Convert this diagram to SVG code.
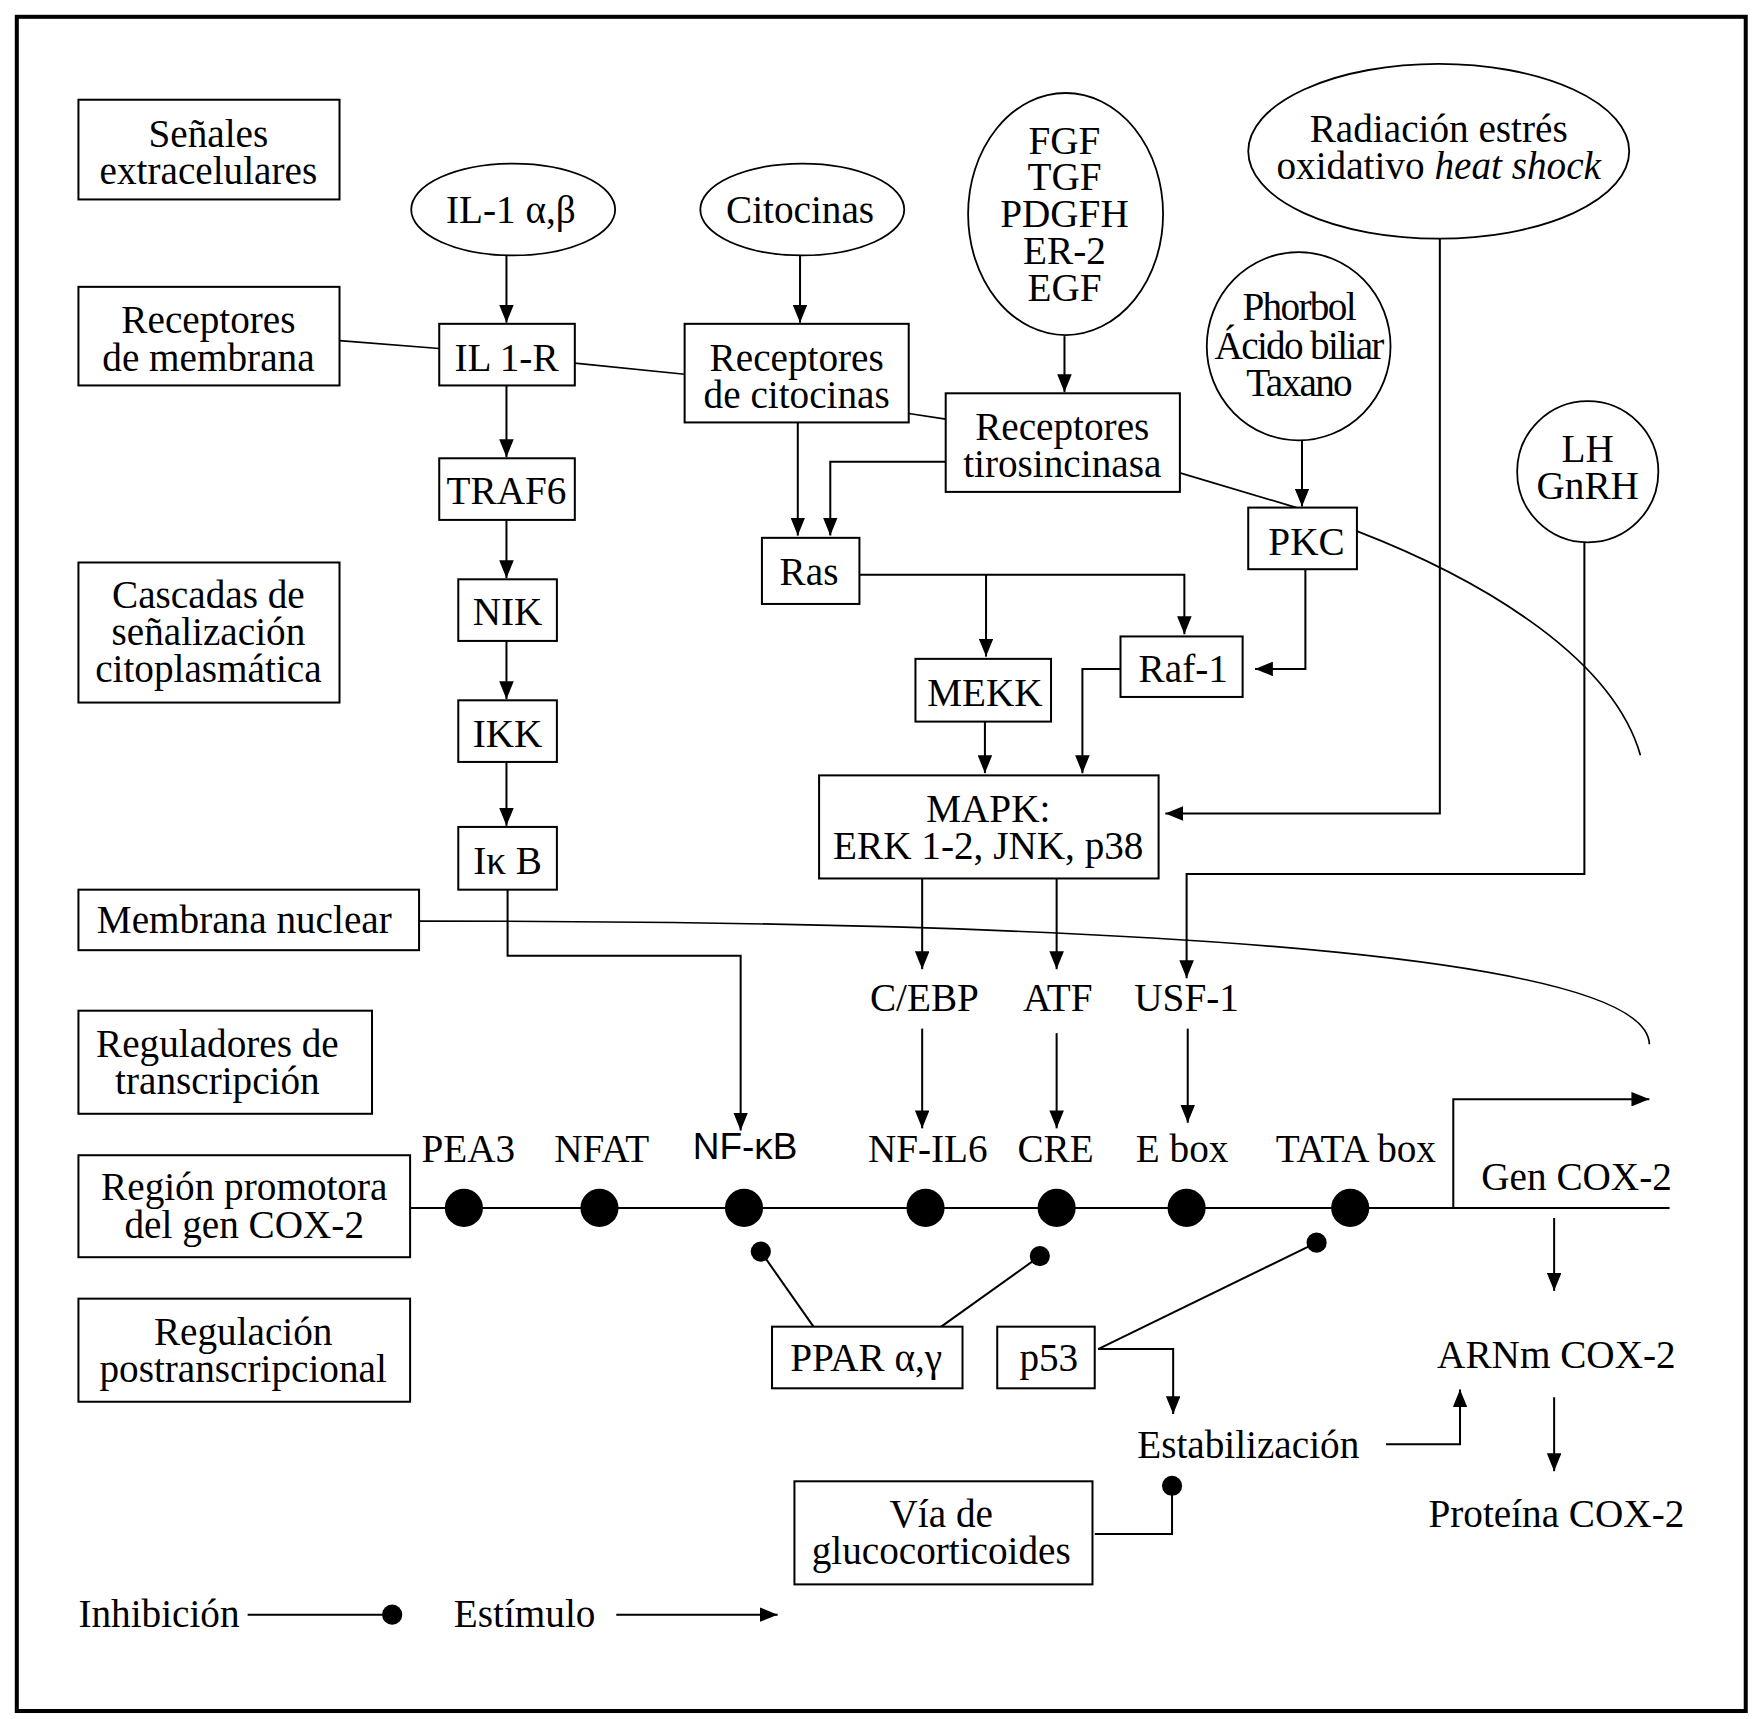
<svg xmlns="http://www.w3.org/2000/svg" width="1757" height="1719" viewBox="0 0 1757 1719">
<defs>
<style>
text{font-family:"Liberation Serif","Times New Roman",serif;font-size:35px;fill:#000;text-anchor:middle}
.st{text-anchor:start}
.sans{font-family:"Liberation Sans",Arial,sans-serif;font-size:33px}
.cond{letter-spacing:-1.5px}
.box{fill:#fff;stroke:#000;stroke-width:1.8}
.ell{fill:#fff;stroke:#000;stroke-width:1.6}
.ln{fill:none;stroke:#000;stroke-width:1.8}
.mem{fill:none;stroke:#000;stroke-width:1.5}
.arr{marker-end:url(#ah)}
.dot{fill:#000}
</style>
<marker id="ah" markerUnits="userSpaceOnUse" viewBox="0 0 16 13" refX="16" refY="6.5" markerWidth="16" markerHeight="13" orient="auto">
<path d="M0,0 L16,6.5 L0,13 z" fill="#000"/>
</marker>
</defs>
<rect x="0" y="0" width="1757" height="1719" fill="#fff"/>
<g transform="scale(1.1205)">
<rect x="15" y="15" width="1543" height="1512" fill="none" stroke="#000" stroke-width="3.6"/>

<g id="connectors">
<path class="mem" d="M303,304 L392,311"/>
<path class="mem" d="M513,324 L611,334"/>
<path class="mem" d="M811,369 L844,374"/>
<path class="mem" d="M1053,422 L1157,453"/>
<path class="mem" d="M1211,474 C1330,520 1440,590 1464,674"/>
<path class="mem" d="M374,822 C1100,822 1470,860 1472,932"/>
<path class="ln arr" d="M452,227 L452,288"/>
<path class="ln arr" d="M714,227 L714,288"/>
<path class="ln arr" d="M950,300 L950,350"/>
<path class="ln arr" d="M1162,392 L1162,452"/>
<path class="ln arr" d="M452,344 L452,408"/>
<path class="ln arr" d="M452,464 L452,516"/>
<path class="ln arr" d="M452,572 L452,624"/>
<path class="ln arr" d="M452,680 L452,737"/>
<path class="ln arr" d="M453,794 L453,853 L661,853 L661,1009"/>
<path class="ln arr" d="M712,377 L712,478"/>
<path class="ln arr" d="M844,412 L741,412 L741,478"/>
<path class="ln arr" d="M767,513 L1057,513 L1057,566"/>
<path class="ln arr" d="M880,513 L880,586"/>
<path class="ln arr" d="M1165,508 L1165,597 L1120,597"/>
<path class="ln arr" d="M879,644 L879,690"/>
<path class="ln arr" d="M1000,597 L966,597 L966,690"/>
<path class="ln arr" d="M1285,212 L1285,726 L1040,726"/>
<path class="ln arr" d="M1414,482 L1414,780 L1059,780 L1059,873"/>
<path class="ln arr" d="M823,784 L823,865"/>
<path class="ln arr" d="M943,784 L943,865"/>
<path class="ln arr" d="M823,918 L823,1007"/>
<path class="ln arr" d="M943,922 L943,1007"/>
<path class="ln arr" d="M1060,918 L1060,1002"/>
<path class="ln arr" d="M1297,1078 L1297,981 L1472,981"/>
<path class="ln arr" d="M1387,1087 L1387,1152"/>
<path class="ln arr" d="M1387,1247 L1387,1313"/>
<path class="ln arr" d="M980,1204 L1047,1204 L1047,1262"/>
<path class="ln arr" d="M1237,1289 L1303,1289 L1303,1240"/>
<path class="ln" d="M679,1117 L726,1184"/>
<circle class="dot" cx="679" cy="1117" r="9"/>
<path class="ln" d="M928,1121 L840,1184"/>
<circle class="dot" cx="928" cy="1121" r="9"/>
<path class="ln" d="M1175,1109 L980,1204"/>
<circle class="dot" cx="1175" cy="1109" r="9"/>
<path class="ln" d="M977,1369 L1046,1369 L1046,1326"/>
<circle class="dot" cx="1046" cy="1326" r="9"/>
</g>

<g id="promoter">
<path class="ln" d="M366,1078 L1490,1078"/>
<circle class="dot" cx="414" cy="1078" r="17"/>
<circle class="dot" cx="535" cy="1078" r="17"/>
<circle class="dot" cx="664" cy="1078" r="17"/>
<circle class="dot" cx="826" cy="1078" r="17"/>
<circle class="dot" cx="943" cy="1078" r="17"/>
<circle class="dot" cx="1059" cy="1078" r="17"/>
<circle class="dot" cx="1205" cy="1078" r="17"/>
</g>

<g id="lbl-senales"><rect class="box" x="70" y="89" width="233" height="89"/><text x="186" y="131">Señales<tspan x="186" dy="33">extracelulares</tspan></text></g>
<g id="lbl-receptores"><rect class="box" x="70" y="256" width="233" height="88"/><text x="186" y="297">Receptores<tspan x="186" dy="34">de membrana</tspan></text></g>
<g id="lbl-cascadas"><rect class="box" x="70" y="502" width="233" height="125"/><text x="186" y="543">Cascadas de<tspan x="186" dy="33">señalización</tspan><tspan x="186" dy="33">citoplasmática</tspan></text></g>
<g id="lbl-membrana"><rect class="box" x="70" y="794" width="304" height="54"/><text x="218" y="833">Membrana nuclear</text></g>
<g id="lbl-reguladores"><rect class="box" x="70" y="902" width="262" height="92"/><text x="194" y="943">Reguladores de<tspan x="194" dy="33">transcripción</tspan></text></g>
<g id="lbl-region"><rect class="box" x="70" y="1031" width="296" height="91"/><text x="218" y="1071">Región promotora<tspan x="218" dy="34">del gen COX-2</tspan></text></g>
<g id="lbl-regulacion"><rect class="box" x="70" y="1159" width="296" height="92"/><text x="217" y="1200">Regulación<tspan x="217" dy="33">postranscripcional</tspan></text></g>

<g id="il1"><ellipse class="ell" cx="458" cy="187" rx="91" ry="41"/><text x="456" y="199">IL-1 α,β</text></g>
<g id="citocinas"><ellipse class="ell" cx="716" cy="187" rx="91" ry="41"/><text x="714" y="199">Citocinas</text></g>
<g id="fgf"><ellipse class="ell" cx="951" cy="191" rx="87" ry="108"/><text x="950" y="137">FGF<tspan x="950" dy="33">TGF</tspan><tspan x="950" dy="33">PDGFH</tspan><tspan x="950" dy="33">ER-2</tspan><tspan x="950" dy="33">EGF</tspan></text></g>
<g id="radiacion"><ellipse class="ell" cx="1284" cy="135" rx="170" ry="78"/><text x="1284" y="127">Radiación estrés<tspan x="1284" dy="33">oxidativo </tspan><tspan font-style="italic">heat shock</tspan></text></g>
<g id="phorbol"><ellipse class="ell" cx="1159" cy="309" rx="82" ry="84"/><text class="cond" x="1159" y="286">Phorbol<tspan x="1159" dy="34">Ácido biliar</tspan><tspan x="1159" dy="33">Taxano</tspan></text></g>
<g id="lh"><circle class="ell" cx="1417" cy="421" r="63"/><text x="1417" y="412">LH<tspan x="1417" dy="33">GnRH</tspan></text></g>

<g id="il1r"><rect class="box" x="392" y="289" width="121" height="55"/><text x="452" y="331">IL 1-R</text></g>
<g id="reccit"><rect class="box" x="611" y="289" width="200" height="88"/><text x="711" y="331">Receptores<tspan x="711" dy="33">de citocinas</tspan></text></g>
<g id="rectir"><rect class="box" x="844" y="351" width="209" height="88"/><text x="948" y="393">Receptores<tspan x="948" dy="33">tirosincinasa</tspan></text></g>
<g id="pkc"><rect class="box" x="1114" y="453" width="97" height="55"/><text x="1166" y="495">PKC</text></g>
<g id="traf6"><rect class="box" x="392" y="409" width="121" height="55"/><text x="452" y="450">TRAF6</text></g>
<g id="nik"><rect class="box" x="409" y="517" width="88" height="55"/><text x="453" y="558">NIK</text></g>
<g id="ikk"><rect class="box" x="409" y="625" width="88" height="55"/><text x="453" y="667">IKK</text></g>
<g id="ikb"><rect class="box" x="409" y="738" width="88" height="56"/><text x="453" y="780">Iκ B</text></g>
<g id="ras"><rect class="box" x="680" y="480" width="87" height="59"/><text x="722" y="522">Ras</text></g>
<g id="mekk"><rect class="box" x="817" y="588" width="121" height="56"/><text x="879" y="630">MEKK</text></g>
<g id="raf1"><rect class="box" x="1000" y="568" width="109" height="54"/><text x="1056" y="609">Raf-1</text></g>
<g id="mapk"><rect class="box" x="731" y="692" width="303" height="92"/><text x="882" y="734">MAPK:<tspan x="882" dy="33">ERK 1-2, JNK, p38</tspan></text></g>

<g id="tf-labels">
<text x="825" y="902">C/EBP</text>
<text x="944" y="902">ATF</text>
<text x="1059" y="902">USF-1</text>
<text x="418" y="1037">PEA3</text>
<text x="537" y="1037">NFAT</text>
<text class="sans" x="665" y="1034">NF-κB</text>
<text x="828" y="1037">NF-IL6</text>
<text x="942" y="1037">CRE</text>
<text x="1055" y="1037">E box</text>
<text x="1210" y="1037">TATA box</text>
<text x="1407" y="1062">Gen COX-2</text>
</g>

<g id="ppar"><rect class="box" x="689" y="1184" width="170" height="55"/><text x="773" y="1224">PPAR α,γ</text></g>
<g id="p53"><rect class="box" x="890" y="1184" width="87" height="55"/><text x="936" y="1224">p53</text></g>
<g id="glucocorticoides"><rect class="box" x="709" y="1322" width="266" height="92"/><text x="840" y="1363">Vía de<tspan x="840" dy="33">glucocorticoides</tspan></text></g>
<g id="estabilizacion"><text x="1114" y="1301">Estabilización</text></g>
<g id="arnm"><text x="1389" y="1221">ARNm COX-2</text></g>
<g id="proteina"><text x="1389" y="1363">Proteína COX-2</text></g>

<g id="legend">
<text class="st" x="70" y="1452">Inhibición</text>
<path class="ln" d="M221,1441 L350,1441"/>
<circle class="dot" cx="350" cy="1441" r="9"/>
<text class="st" x="405" y="1452">Estímulo</text>
<path class="ln arr" d="M550,1441 L694,1441"/>
</g>
</g>
</svg>
